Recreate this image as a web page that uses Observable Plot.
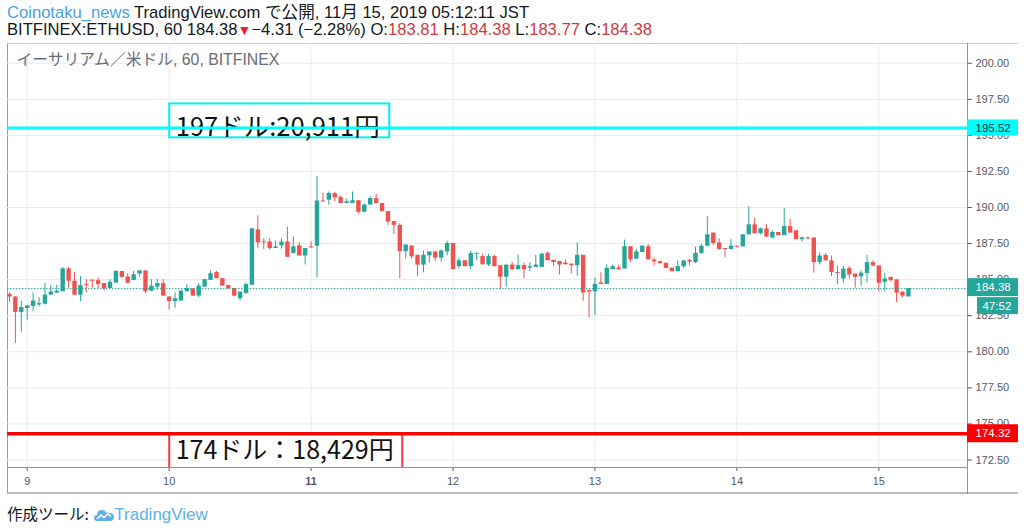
<!DOCTYPE html>
<html><head><meta charset="utf-8">
<script src="https://cdn.jsdelivr.net/npm/d3@7"></script>
<script src="https://cdn.jsdelivr.net/npm/@observablehq/plot@0.6"></script>
<style>
body{margin:0;background:#fff;width:1024px;height:530px;overflow:hidden;position:relative;font-family:"Liberation Sans","Noto Sans CJK JP",sans-serif;}
.hdr{position:absolute;left:7px;font-size:16.6px;color:#131722;white-space:nowrap;line-height:18px}
#l1{top:4px} #l2{top:21px}
.blue{color:#4aa3df}
.red{color:#cf3b3f}
.tri{color:#e3262c;font-size:14px}
#outer{position:absolute;left:7px;top:43px;width:1011px;height:451px;border-left:1px solid #9a9da6;border-top:1px solid #c9ccd3;border-bottom:2px solid #b8bbc2;box-sizing:border-box}
#chart{position:absolute;left:0;top:43px}
#foot{position:absolute;left:7px;top:503px;font-size:15.5px;color:#131722;white-space:nowrap;line-height:20px;font-family:"Noto Sans CJK JP","Liberation Sans",sans-serif}
#foot .tv{color:#5cb1e6;font-family:"Liberation Sans",sans-serif;font-size:17px}
#foot svg{vertical-align:-3px;margin-left:2px}
</style></head>
<body>
<div class="hdr" id="l1"><span class="blue">Coinotaku_news</span> TradingView.com で公開, 11月 15, 2019 05:12:11 JST</div>
<div class="hdr" id="l2">BITFINEX:ETHUSD, 60 184.38<span class="tri">▼</span>−4.31 (−2.28%) O:<span class="red">183.81</span> H:<span class="red">184.38</span> L:<span class="red">183.77</span> C:<span class="red">184.38</span></div>
<div id="outer"></div>
<div id="chart"></div>
<div id="foot">作成ツール: <svg width="20" height="16" viewBox="0 0 20 16"><path d="M3 14 Q0 14 0 11 Q0 8 3 8 Q3 3 8 3 Q11 3 12.5 6 Q14 5 15.5 6 Q20 6 20 10 Q20 14 16 14 Z" fill="#5cb1e6"/><path d="M3 12 L7 8 L10 10.5 L14 7 L17 9.5" stroke="#fff" stroke-width="1.6" fill="none"/></svg><span class="tv">TradingView</span></div>
<script>
// hour index relative to Nov 9 00:00 JST, first candle at -3
const firstHour = -3;
const opens = [183.98,183.80,182.73,183.00,183.14,183.25,183.30,183.93,184.07,184.16,185.75,184.89,183.93,184.66,184.95,184.93,184.73,184.39,184.77,185.57,185.18,184.95,185.39,185.61,184.20,184.48,184.73,183.80,183.48,183.52,184.16,184.36,183.86,184.48,184.95,185.50,185.07,184.59,184.39,183.68,184.05,184.61,188.45,187.61,187.61,187.16,187.34,187.61,186.82,187.34,186.64,187.27,187.32,190.45,190.51,190.97,190.69,190.28,190.28,190.47,189.67,190.17,190.62,190.28,189.72,189.03,188.76,186.94,187.33,186.69,186.01,186.65,186.92,186.49,186.92,187.51,185.90,186.31,185.90,186.76,186.60,186.01,186.60,185.97,185.17,186.01,185.69,185.97,185.80,185.85,185.85,186.83,186.35,186.26,186.15,186.08,185.97,186.69,184.26,184.15,184.78,184.67,185.69,185.81,185.74,187.28,186.42,186.88,187.28,186.36,186.25,186.14,185.80,185.55,185.89,186.34,186.18,186.82,187.32,188.23,187.55,187.16,187.09,187.32,187.27,188.11,188.80,188.18,188.52,187.89,188.27,188.05,188.68,188.39,187.77,187.89,187.89,186.18,186.68,186.30,185.50,185.05,185.77,185.39,185.20,185.43,186.18,185.95,184.82,185.16,184.98,184.14,183.81];
const highs = [184.09,183.80,183.52,183.18,184.09,183.75,184.73,184.59,184.61,185.84,185.86,185.50,185.23,185.00,185.00,185.11,184.73,185.00,185.61,185.57,185.41,185.57,185.61,185.61,185.00,185.00,185.00,183.80,184.09,184.27,184.66,184.36,184.73,185.00,185.61,185.57,185.07,184.59,184.39,184.14,184.77,188.57,189.43,187.84,187.84,187.68,187.84,188.64,187.95,187.57,187.16,187.61,192.16,191.00,191.08,191.03,190.81,190.58,191.08,190.47,190.24,190.74,190.92,190.28,189.72,189.03,188.88,187.40,187.33,186.69,186.99,186.92,186.92,187.06,187.67,187.51,186.49,186.31,186.99,186.83,186.76,186.76,186.69,185.97,186.01,186.19,186.69,186.15,186.19,186.69,186.83,186.92,186.35,186.26,186.37,186.08,187.56,186.69,184.26,185.13,185.47,186.03,186.01,186.01,187.74,187.28,187.10,187.33,187.44,186.52,186.30,186.14,185.80,186.30,186.34,186.41,187.25,187.43,189.36,188.23,187.84,187.16,187.77,187.32,188.11,190.05,189.25,188.57,188.80,188.39,188.27,189.93,189.18,188.39,187.95,187.95,187.89,186.86,186.82,186.64,185.95,185.91,185.91,185.39,185.61,186.68,186.30,185.95,185.45,185.16,184.98,184.14,184.38];
const lows = [183.43,180.57,181.36,182.20,182.80,183.11,183.25,183.93,184.07,184.16,184.39,183.90,183.48,184.09,184.39,184.39,184.25,184.39,184.73,185.11,184.70,184.95,185.16,184.02,184.20,184.27,183.86,182.89,183.02,183.52,184.16,183.86,183.75,184.48,184.95,185.07,184.55,184.36,183.80,183.52,183.98,184.61,187.16,187.09,187.05,187.16,187.11,186.55,186.82,186.64,186.02,187.20,185.11,190.39,190.17,190.40,190.28,190.28,190.28,189.53,189.67,190.17,190.28,189.72,188.76,188.13,185.06,186.42,186.42,185.22,185.47,186.15,186.26,186.19,186.65,185.69,185.74,185.90,185.67,186.31,186.03,185.90,185.90,184.33,184.49,185.63,185.69,185.06,185.56,185.85,185.85,186.31,185.90,185.33,186.03,185.40,185.24,183.51,182.37,182.51,184.67,184.67,185.69,185.63,185.74,186.19,186.42,186.88,186.37,185.95,186.07,185.77,185.55,185.55,185.77,185.95,186.11,186.75,187.32,187.36,187.02,186.52,187.09,187.20,187.27,188.11,188.18,188.11,187.95,187.82,188.05,188.05,188.23,187.77,187.61,187.77,185.45,186.02,186.30,185.20,184.64,184.77,185.05,184.41,184.55,184.77,185.89,184.14,184.14,184.86,183.41,183.75,183.77];
const closes = [183.80,182.73,183.07,183.18,183.52,183.34,183.93,184.14,184.20,185.75,184.89,183.93,184.59,184.59,184.89,184.66,184.36,184.82,185.57,185.16,184.75,185.34,185.61,184.16,184.55,184.73,183.86,183.48,183.68,184.20,184.39,183.86,184.55,185.00,185.41,185.07,184.55,184.36,183.86,184.14,184.66,188.52,187.55,187.55,187.16,187.27,187.61,186.55,187.27,186.64,187.16,187.20,190.45,190.39,190.97,190.67,190.28,190.40,190.47,189.67,190.17,190.62,190.28,189.72,188.99,188.76,186.94,187.40,186.58,186.01,186.69,186.92,186.49,186.99,187.51,185.69,186.31,185.90,186.81,186.83,186.03,186.60,185.90,185.17,186.01,185.69,185.97,185.69,185.90,186.01,186.76,186.31,186.19,186.01,186.03,185.97,186.69,184.08,184.15,184.67,184.67,185.78,185.90,185.69,187.28,186.37,186.92,187.33,186.37,186.23,186.11,185.77,185.55,185.91,186.30,186.23,186.82,187.32,188.11,187.50,187.09,187.09,187.32,187.25,188.11,188.80,188.18,188.52,187.95,188.27,188.05,188.68,188.23,187.77,187.89,187.82,186.18,186.64,186.30,185.50,185.43,185.73,185.32,185.16,185.45,186.18,185.95,184.75,185.05,184.93,184.07,183.86,184.38];

const dayTicks = [0, 24, 48, 72, 96, 120, 144];
const dayLabels = ["9", "10", "11", "12", "13", "14", "15"];
const boldDay = "11";
const priceTicks = [172.5, 175, 177.5, 180, 182.5, 185, 187.5, 190, 192.5, 195, 197.5, 200];

const lastPrice = 184.38;
const countdown = "47:52";
const resistance = 195.52;
const support = 174.32;
const titleText = "イーサリアム／米ドル, 60, BITFINEX";
// drawing anchors (hour index / price) of the two note boxes
const noteTop = {h1: 24.1, h2: 61.3, p1: 197.18, p2: 194.83, text: "197ドル:20,911円"};
const noteBottom = {h1: 24.1, h2: 63.5, p1: 174.30, p2: 171.0, text: "174ドル：18,429円"};

const candles = opens.map((o, i) => ({h: firstHour + i, o, hi: highs[i], lo: lows[i], c: closes[i]}));
const UP = "#26a69a", DOWN = "#ef5350";
const col = d => d.c >= d.o ? UP : DOWN;
const xDom = [-3.33, 158.99];
const xMax = xDom[1];

const plot = Plot.plot({
  width: 1024, height: 451,
  marginLeft: 7, marginRight: 57, marginTop: 0, marginBottom: 27,
  x: {domain: xDom},
  y: {domain: [171.98, 201.37]},
  style: {fontFamily: "'Liberation Sans', sans-serif", background: "transparent"},
  marks: [
    Plot.ruleX(dayTicks, {stroke: "#e3ebf1", strokeWidth: 1}),
    Plot.ruleY(priceTicks, {stroke: "#e3ebf1", strokeWidth: 1}),
    Plot.text([titleText], {frameAnchor: "top-left", dx: 9, dy: 10, text: d => d, fontSize: 15.8, fill: "#6a6d78", textAnchor: "start", fontFamily: "'Liberation Sans','Noto Sans CJK JP',sans-serif"}),
    Plot.ruleX(candles, {x: "h", y1: "lo", y2: "hi", stroke: col, strokeWidth: 1, clip: true}),
    Plot.ruleX(candles, {x: "h", y1: d => Math.min(d.o, d.c), y2: d => Math.max(d.o, d.c, Math.min(d.o, d.c) + 0.07), stroke: col, strokeWidth: 4.4, clip: true}),
    Plot.ruleY([lastPrice], {stroke: UP, strokeDasharray: "1.5,1.5", strokeWidth: 1}),
    // note boxes
    Plot.rect([noteTop], {x1: "h1", x2: "h2", y1: "p1", y2: "p2", fill: "white", stroke: "#00f0f0", strokeWidth: 2}),
    Plot.text([noteTop], {x: "h1", y: "p2", dx: 6, dy: -10, text: "text", textAnchor: "start", fontSize: 25.5, fill: "#111", fontFamily: "'Noto Sans CJK JP',sans-serif"}),
    Plot.rect([noteBottom], {x1: "h1", x2: "h2", y1: "p1", y2: "p2", fill: "white", stroke: "#f03c3c", strokeWidth: 2, clip: true}),
    Plot.text([noteBottom], {x: "h1", y: "p1", dx: 6, dy: 17, text: "text", textAnchor: "start", fontSize: 25, fill: "#111", fontFamily: "'Noto Sans CJK JP',sans-serif"}),
    Plot.ruleY([resistance], {stroke: "#00ffff", strokeWidth: 3}),
    Plot.ruleY([support], {stroke: "#ff0000", strokeWidth: 3.5}),
    // axes
    Plot.axisY(priceTicks, {anchor: "right", tickSize: 4, tickPadding: 4, fontSize: 11, color: "#555a66", tickFormat: d => d.toFixed(2)}),
    Plot.axisX(dayTicks.filter((d, i) => dayLabels[i] !== boldDay), {tickSize: 4, tickPadding: 6, fontSize: 11, color: "#555a66", tickFormat: d => dayLabels[dayTicks.indexOf(d)]}),
    Plot.axisX(dayTicks.filter((d, i) => dayLabels[i] === boldDay), {tickSize: 4, tickPadding: 6, fontSize: 11, fontWeight: "bold", color: "#555a66", tickFormat: d => dayLabels[dayTicks.indexOf(d)]}),
    Plot.ruleY([171.98], {stroke: "#8f929b", strokeWidth: 1}),
    Plot.ruleX([xMax], {stroke: "#8f929b", strokeWidth: 1, insetBottom: -27}),
    // price labels on the axis
    Plot.rect([resistance], {x1: xMax, x2: xMax, y1: d => d, y2: d => d, insetLeft: 0, insetRight: -51, insetTop: -8, insetBottom: -8, fill: "#00ffff"}),
    Plot.text([resistance], {x: xMax, y: d => d, dx: 8, text: d => d.toFixed(2), textAnchor: "start", fontSize: 11.5, fill: "#1e222d"}),
    Plot.rect([support], {x1: xMax, x2: xMax, y1: d => d, y2: d => d, insetLeft: 0, insetRight: -51, insetTop: -9, insetBottom: -9, fill: "#ff0000"}),
    Plot.text([support], {x: xMax, y: d => d, dx: 8, text: d => d.toFixed(2), textAnchor: "start", fontSize: 11.5, fill: "#fff"}),
    Plot.rect([lastPrice], {x1: xMax, x2: xMax, y1: d => d, y2: d => d, insetLeft: 0, insetRight: -51, insetTop: -10, insetBottom: -8, fill: UP}),
    Plot.text([lastPrice], {x: xMax, y: d => d, dx: 8, dy: -1, text: d => d.toFixed(2), textAnchor: "start", fontSize: 11.5, fill: "#fff"}),
    Plot.rect([lastPrice], {x1: xMax, x2: xMax, y1: d => d, y2: d => d, insetLeft: 10, insetRight: -51, insetTop: 9, insetBottom: -26, fill: UP}),
    Plot.text([lastPrice], {x: xMax, y: d => d, dx: 15, dy: 17.5, text: () => countdown, textAnchor: "start", fontSize: 11.5, fill: "#fff"})
  ]
});
document.getElementById("chart").appendChild(plot);
</script>
</body></html>
